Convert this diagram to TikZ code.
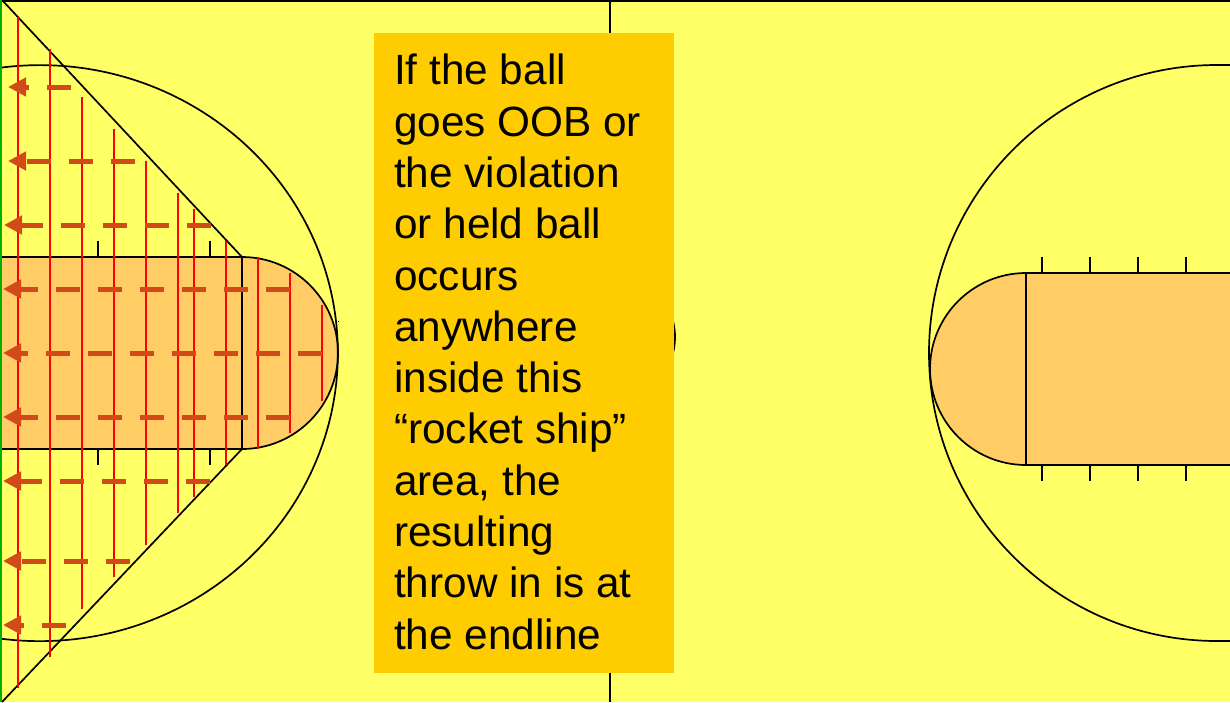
\documentclass[tikz,border=0pt]{standalone}
\usepackage{fontspec}
\setmainfont{Liberation Sans}
\usetikzlibrary{arrows.meta}
\definecolor{courtyellow}{HTML}{FFFF66}
\definecolor{keyorange}{HTML}{FFCC66}
\definecolor{boxorange}{HTML}{FFCC00}
\definecolor{dashorange}{HTML}{D24A17}
\tikzset{
  courtline/.style={black, line width=1.7pt},
  keyline/.style={courtline, line width=1.9pt},
  hashline/.style={red, line width=2pt},
  throwarrow/.style={dashorange, line width=5pt, dash pattern=on 24pt off 18pt, -{Triangle[length=18pt,width=18pt]}}
}

\begin{document}
\begin{tikzpicture}[x=1pt, y=-1pt]
    \useasboundingbox (0,0) rectangle (1230,702);
    % Floor
    \fill[courtyellow] (0,0) rectangle (1230,702);

    % Left key
    \fill[keyorange] (2,257) -- (242,257) arc[start angle=-90, end angle=90, radius=96] -- (2,449) -- cycle;
    \draw[keyline] (2,257) -- (242,257);
    \draw[keyline] (2,449) -- (242,449);
    \draw[keyline] (242,257) -- (242,449);
    \draw[courtline] (242,257) arc[start angle=-90, end angle=90, radius=96];
    \foreach \tickx in {98,210} {
        \draw[keyline] (\tickx,241) -- (\tickx,257);
        \draw[keyline] (\tickx,449) -- (\tickx,465);
    }

    % Rocket ship sides
    \draw[courtline] (2,0) -- (242,257);
    \draw[courtline] (242,449) -- (2,702);

    % Left circle
    \draw[courtline] (2,67.5) arc[start angle=-97.3, end angle=97.3, x radius=298, y radius=288];
    \fill[black] (338,320.5) rectangle (339,321.5);

    % Right key
    \fill[keyorange] (1230,273) -- (1026,273) arc[start angle=-90, end angle=-270, radius=96] -- (1230,465) -- cycle;
    \draw[keyline] (1230,273) -- (1026,273);
    \draw[keyline] (1230,465) -- (1026,465);
    \draw[keyline] (1026,273) -- (1026,465);
    \draw[courtline] (1026,273) arc[start angle=-90, end angle=-270, radius=96];
    \foreach \tickx in {1042,1090,1138,1186} {
        \draw[keyline] (\tickx,257) -- (\tickx,273);
        \draw[keyline] (\tickx,465) -- (\tickx,481);
    }

    % Right circle
    \draw[courtline] (1230,65) -- (1217,65) arc[start angle=-90, end angle=-270, radius=288] -- (1230,641);

    % Center line and circle
    \draw[keyline] (610,0) -- (610,702);
    \draw[courtline] (610,337) circle[radius=65];

    % Court edges
    \draw[keyline] (0,0.7) -- (1230,0.7);
    \draw[green!70!black, line width=2pt] (1,0) -- (1,702);

    % Red hash lines
    \foreach \hashx/\hashtop/\hashbot in {18/17/688, 50/49/657, 82/97/609, 114/129/577, 146/161/545, 178/193/513, 194/209/497, 226/241/465, 258/257/449, 290/273/433, 322/305/401} {
        \draw[hashline] (\hashx,\hashtop) -- (\hashx,\hashbot);
    }

    % Throw in arrows
    \foreach \throwy/\throwstart/\throwend in {87/71/8, 161/135/8, 225/211/4, 289/290/3, 353/322/3, 417/290/3, 481/210/3, 561/130/3, 625/66/3} {
        \draw[throwarrow] (\throwstart,\throwy) -- (\throwend,\throwy);
    }

    % Text box
    \node[fill=boxorange, minimum width=300pt, minimum height=640pt, inner sep=0pt, anchor=north west] (notebox) at (374,33) {};
    \node[anchor=north west, align=left, inner sep=0pt, font=\fontsize{42.3}{51.3}\selectfont] (notetext) at (394,54) {If the ball\\goes OOB or\\the violation\\or held ball\\occurs\\anywhere\\inside this\\“rocket ship”\\area, the\\resulting\\throw in is at\\the endline};
\end{tikzpicture}
\end{document}
